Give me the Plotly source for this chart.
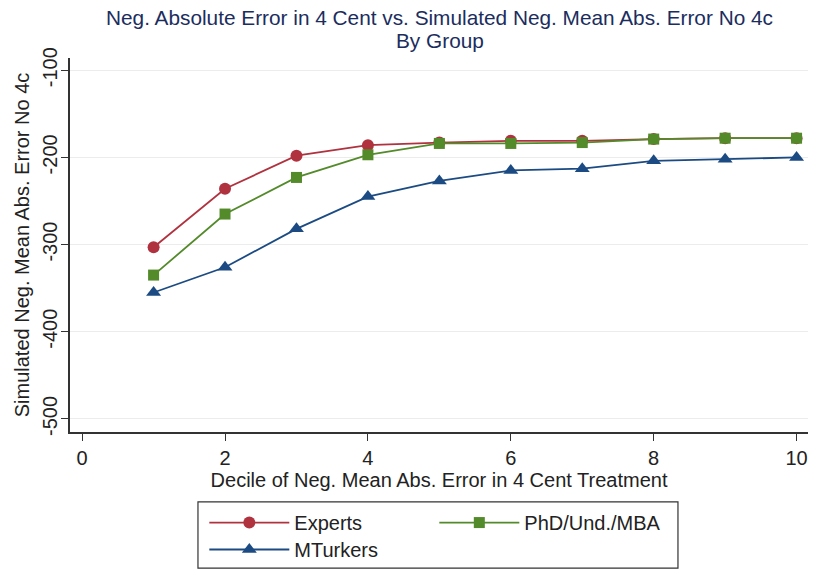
import plotly.graph_objects as go

deciles = [1, 2, 3, 4, 5, 6, 7, 8, 9, 10]
experts = [-303, -236, -198, -186, -183, -181, -181, -179, -178, -178]
phd_und_mba = [-335, -265, -223, -197, -184, -184, -183, -179, -178, -178]
mturkers = [-355, -326, -282, -245, -227, -215, -213, -204, -202, -200]

y_ticks = [-500, -400, -300, -200, -100]
y_tick_labels = ["-500", "-400", "-300", "-200", "-100"]
x_ticks = [0, 2, 4, 6, 8, 10]

title_lines = [
    "Neg. Absolute Error in 4 Cent vs. Simulated Neg. Mean Abs. Error No 4c",
    "By Group",
]

# name, values, colour, marker, marker size, legend group
series = [
    ("Experts", experts, "#b0323f", "circle", 12, "legend"),
    ("PhD/Und./MBA", phd_und_mba, "#538a2a", "square", 11, "legend"),
    ("MTurkers", mturkers, "#1b4b82", "triangle-up", 13, "legend2"),
]

fig = go.Figure()
for name, vals, color, symbol, size, leg in series:
    fig.add_trace(go.Scatter(
        x=deciles, y=vals, name=name, mode="lines+markers",
        line=dict(color=color, width=1.8),
        marker=dict(symbol=symbol, size=size, color=color),
        legend=leg,
    ))

font_family = "Liberation Sans, Arial, sans-serif"
text_col = "#222222"
leg_common = dict(
    orientation="h", xanchor="left", yanchor="top",
    bgcolor="rgba(0,0,0,0)", borderwidth=0,
    entrywidth=135, itemwidth=80, font=dict(size=20, color=text_col),
)

# two-line heading, drawn as separate lines for tighter spacing
for line_text, ypos in zip(title_lines, [1.1096, 1.0455]):
    fig.add_annotation(
        text=line_text, xref="paper", yref="paper", x=0.501, y=ypos,
        xanchor="center", yanchor="middle", showarrow=False,
        font=dict(size=20.8, color="#1b2d5e"),
    )

fig.update_layout(
    width=817, height=571,
    margin=dict(l=70, r=9, t=58, b=139, autoexpand=False),
    paper_bgcolor="white", plot_bgcolor="white",
    font=dict(family=font_family, color=text_col, size=20),
    xaxis=dict(
        range=[-0.17, 10.16], tickvals=x_ticks,
        showgrid=False, zeroline=False,
        showline=True, linecolor="#333333", linewidth=1.5,
        ticks="outside", ticklen=7, tickcolor="#333333",
        tickfont=dict(size=20),
        title=dict(text="Decile of Neg. Mean Abs. Error in 4 Cent Treatment",
                   font=dict(size=20), standoff=2),
    ),
    yaxis=dict(
        range=[-515, -86], tickvals=y_ticks, ticktext=y_tick_labels,
        tickangle=-90, ticklabelstandoff=-4,
        showgrid=True, gridcolor="#ececec", gridwidth=1, zeroline=False,
        showline=True, linecolor="#333333", linewidth=1.5,
        ticks="outside", ticklen=7, tickcolor="#333333",
        tickfont=dict(size=20),
        title=dict(text="Simulated Neg. Mean Abs. Error No 4c",
                   font=dict(size=20), standoff=4),
    ),
    legend=dict(x=0.182, y=-0.19, **leg_common),
    legend2=dict(x=0.182, y=-0.262, **leg_common),
    shapes=[dict(
        type="rect", xref="paper", yref="paper",
        x0=0.1734, x1=0.8238, y0=-0.364, y1=-0.187,
        line=dict(color="#333333", width=1.2), fillcolor="rgba(0,0,0,0)",
        layer="below",
    )],
)

fig.write_html("out.html")
